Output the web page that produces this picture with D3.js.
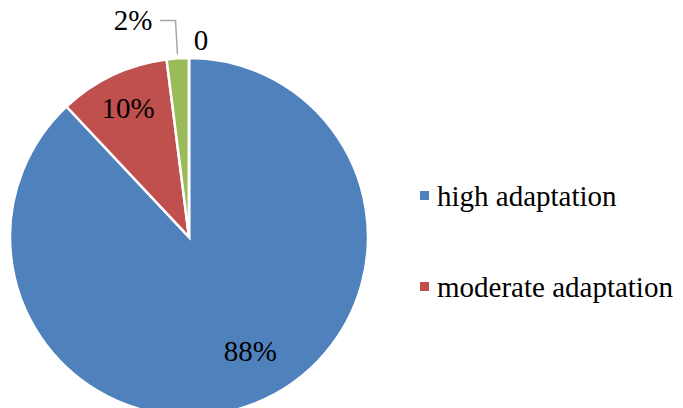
<!DOCTYPE html>
<html>
<head>
<meta charset="utf-8">
<script src="https://cdn.jsdelivr.net/npm/d3@7"></script>
<style>
  html, body { margin: 0; padding: 0; background: #fff; }
  svg { display: block; }
</style>
</head>
<body>
<svg id="chart" width="683" height="408"></svg>
<script>
// Adaptation levels and their shares (%)
const categories = ["high adaptation", "moderate adaptation", "low adaptation", "no adaptation"];
const values = [88, 10, 2, 0];
const valueLabels = ["88%", "10%", "2%", "0"];
const colors = ["#4F81BD", "#C0504D", "#9BBB59", "#8064A2"];
const legendItems = ["high adaptation", "moderate adaptation"];

const svg = d3.select("#chart");
const cx = 189, cy = 237, R = 179;
const font = '"Liberation Serif", "Times New Roman", serif';

const pie = d3.pie().sort(null).value(d => d.value);
const arcs = pie(categories.map((c, i) => ({ name: c, value: values[i], label: valueLabels[i] })));
const arc = d3.arc().innerRadius(0).outerRadius(R);

const g = svg.append("g").attr("transform", `translate(${cx},${cy})`);

g.selectAll("path.slice")
  .data(arcs)
  .join("path")
  .attr("class", "slice")
  .attr("d", arc)
  .attr("fill", (d, i) => colors[i])
  .attr("stroke", "#fff")
  .attr("stroke-width", 2.5)
  .attr("stroke-linejoin", "miter");

// Data labels: inside labels sit along the mid angle, small slices get outside labels
const midA = d => (d.startAngle + d.endAngle) / 2;
const polar = (a, r) => [r * Math.sin(a), -r * Math.cos(a)];

const labelPlace = [
  { r: 0.72, dx: 14, dy: -6 },   // high
  { r: 0.80, dx: 0, dy: 0 },     // moderate
  { r: 1.15, dx: -43, dy: -12 }, // low (outside, with leader)
  { r: 1.10, dx: 12, dy: 0 }     // none (outside)
];

const labelPos = arcs.map((d, i) => {
  const p = polar(midA(d), R * labelPlace[i].r);
  return [p[0] + labelPlace[i].dx, p[1] + labelPlace[i].dy];
});

g.selectAll("text.lbl")
  .data(arcs)
  .join("text")
  .attr("class", "lbl")
  .attr("x", (d, i) => labelPos[i][0])
  .attr("y", (d, i) => labelPos[i][1])
  .attr("text-anchor", "middle")
  .attr("dy", "0.35em")
  .style("font-family", font)
  .attr("font-size", 29)
  .attr("fill", "#000")
  .text(d => d.data.label);

// Leader line for the small slice label
{
  const d = arcs[2];
  const edge = polar(midA(d), R + 4);
  const lp = labelPos[2];
  const elbowX = edge[0] - 2;
  const lineY = lp[1] + 1;
  g.append("path")
    .attr("d", `M${lp[0] + 27},${lineY} L${elbowX},${lineY} L${edge[0]},${edge[1]}`)
    .attr("fill", "none")
    .attr("stroke", "#A6A6A6")
    .attr("stroke-width", 1.5);
}

// Legend
const legend = svg.append("g").attr("transform", "translate(420,0)");
const legendY = [196, 287];
legendItems.forEach((name, i) => {
  const row = legend.append("g").attr("transform", `translate(0,${legendY[i]})`);
  row.append("rect")
    .attr("x", 0).attr("y", -5)
    .attr("width", 9).attr("height", 9)
    .attr("fill", colors[categories.indexOf(name)]);
  row.append("text")
    .attr("x", 17).attr("y", 0)
    .attr("dy", "0.33em")
    .style("font-family", font)
    .attr("font-size", 29)
    .attr("fill", "#000")
    .text(name);
});
</script>
</body>
</html>
